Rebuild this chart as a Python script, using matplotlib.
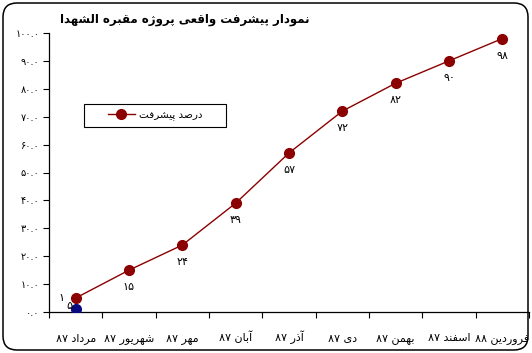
import matplotlib
matplotlib.use("Agg")
import matplotlib.pyplot as plt
from matplotlib.patches import FancyBboxPatch, Rectangle
from matplotlib.transforms import IdentityTransform

# data
months = ["مرداد ۸۷", "شهریور ۸۷", "مهر ۸۷", "آبان ۸۷", "آذر ۸۷",
          "دی ۸۷", "بهمن ۸۷", "اسفند ۸۷", "فروردین ۸۸"]
progress = [5, 15, 24, 39, 57, 72, 82, 90, 98]
progress_labels = ["۵", "۱۵", "۲۴", "۳۹", "۵۷", "۷۲", "۸۲", "۹۰", "۹۸"]
start_value = [1]
start_label = "۱"
y_ticks = [0, 10, 20, 30, 40, 50, 60, 70, 80, 90, 100]
title = "نمودار پیشرفت واقعی پروژه مقبره الشهدا"
series_name = "درصد پیشرفت"

# minimal arabic/persian shaping (matplotlib 3.10 has no bidi / shaping)
FORMS = {
    "ا": (0xFE8D, 0xFE8E), "آ": (0xFE81, 0xFE82), "د": (0xFEA9, 0xFEAA),
    "ذ": (0xFEAB, 0xFEAC), "ر": (0xFEAD, 0xFEAE), "ز": (0xFEAF, 0xFEB0),
    "ژ": (0xFB8A, 0xFB8B), "و": (0xFEED, 0xFEEE),
    "ب": (0xFE8F, 0xFE90, 0xFE91, 0xFE92), "پ": (0xFB56, 0xFB57, 0xFB58, 0xFB59),
    "ت": (0xFE95, 0xFE96, 0xFE97, 0xFE98), "س": (0xFEB1, 0xFEB2, 0xFEB3, 0xFEB4),
    "ش": (0xFEB5, 0xFEB6, 0xFEB7, 0xFEB8), "ص": (0xFEB9, 0xFEBA, 0xFEBB, 0xFEBC),
    "ع": (0xFEC9, 0xFECA, 0xFECB, 0xFECC), "ف": (0xFED1, 0xFED2, 0xFED3, 0xFED4),
    "ق": (0xFED5, 0xFED6, 0xFED7, 0xFED8), "ک": (0xFB8E, 0xFB8F, 0xFB90, 0xFB91),
    "ل": (0xFEDD, 0xFEDE, 0xFEDF, 0xFEE0), "م": (0xFEE1, 0xFEE2, 0xFEE3, 0xFEE4),
    "ن": (0xFEE5, 0xFEE6, 0xFEE7, 0xFEE8), "ه": (0xFEE9, 0xFEEA, 0xFEEB, 0xFEEC),
    "ی": (0xFBFC, 0xFBFD, 0xFBFE, 0xFBFF),
}


def shape_word(w):
    out = []
    for i, c in enumerate(w):
        if c not in FORMS:
            out.append(c)
            continue
        prev = w[i - 1] if i > 0 else ""
        nxt = w[i + 1] if i + 1 < len(w) else ""
        join_prev = prev in FORMS and len(FORMS[prev]) == 4
        join_next = len(FORMS[c]) == 4 and nxt in FORMS
        f = FORMS[c]
        if join_prev and join_next:
            out.append(chr(f[3]))
        elif join_prev:
            out.append(chr(f[1]))
        elif join_next:
            out.append(chr(f[2]))
        else:
            out.append(chr(f[0]))
    return "".join(out[::-1])


def rtl(text):
    words = text.split(" ")
    return " ".join(shape_word(w) if any(c in FORMS for c in w) else w
                    for w in words[::-1])


def fa_num(v):
    s = f"{v:.1f}"
    return s.translate(str.maketrans("0123456789", "۰۱۲۳۴۵۶۷۸۹"))


plt.rcParams["font.family"] = ["DejaVu Sans"]
red = "#8B0000"

fig = plt.figure(figsize=(5.32, 3.53), dpi=100)
ax = fig.add_axes([49 / 532, 1 - 312 / 353, 480 / 532, 279 / 353])

x = list(range(len(months)))
line, = ax.plot(x, progress, color=red, lw=1, marker="o", ms=7,
                mfc=red, mec=red, zorder=3, label=rtl(series_name))
ax.plot([0], start_value, ls="none", marker="o", ms=7, color="#0A0A80", zorder=3)

for xi, v, lab in zip(x, progress, progress_labels):
    if xi == 0:
        ax.annotate(lab, (xi, v), xytext=(-6, -8), textcoords="offset pixels",
                    ha="center", va="center", fontsize=8)
    else:
        ax.annotate(lab, (xi, v), xytext=(0, -17), textcoords="offset pixels",
                    ha="center", va="center", fontsize=8)
ax.annotate(start_label, (0, start_value[0]), xytext=(-14, 11),
            textcoords="offset pixels", ha="center", va="center", fontsize=8)

ax.set_xlim(-0.5, len(months) - 0.5)
ax.set_ylim(0, 100)
ax.set_yticks(y_ticks)
ax.set_yticklabels([fa_num(v) for v in y_ticks], fontsize=7)
ax.set_xticks([i - 0.5 for i in range(len(months) + 1)])
ax.set_xticklabels([])
ax.set_xticks(x, minor=True)
ax.set_xticklabels([rtl(m) for m in months], minor=True, fontsize=8)
for t in ax.get_xticklabels(minor=True):
    t.set_va("baseline")
ax.tick_params(axis="x", which="major", direction="out", length=4, width=0.8)
ax.tick_params(axis="x", which="minor", length=0, pad=21)
ax.tick_params(axis="y", direction="out", length=4, width=0.8, pad=3)
for s in ["top", "right"]:
    ax.spines[s].set_visible(False)
for s in ["left", "bottom"]:
    ax.spines[s].set_linewidth(0.9)

fig.text(185 / 532, 1 - 20 / 353, rtl(title), ha="center", va="center",
         fontsize=8.5, fontweight="bold")

# legend with its own box
fig.add_artist(Rectangle((84 / 532, 1 - 127 / 353), 142 / 532, 23 / 353,
                         transform=fig.transFigure, fill=True, facecolor="white",
                         edgecolor="black", lw=0.8, zorder=4))
leg = fig.legend(handles=[line], loc="center", bbox_to_anchor=(155 / 532, 1 - 115.5 / 353),
                 frameon=False, fontsize=7.5, handlelength=2.6, handletextpad=0.4)
leg.set_zorder(5)

# rounded outer border
fig.add_artist(FancyBboxPatch((3, 3), 525, 347, boxstyle="round,pad=0,rounding_size=14",
                              transform=IdentityTransform(), fill=False,
                              edgecolor="black", lw=1.1))

fig.savefig("out.png", dpi=100)
